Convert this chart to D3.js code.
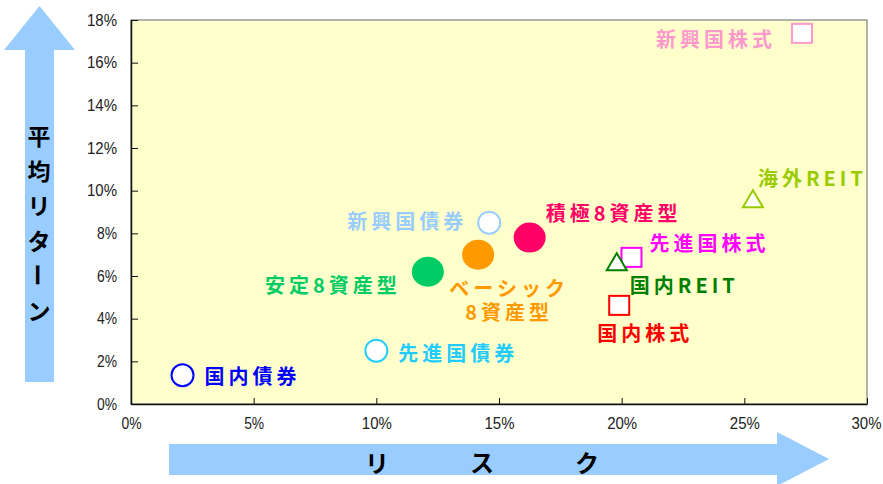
<!DOCTYPE html>
<html>
<head>
<meta charset="utf-8">
<script src="https://cdn.jsdelivr.net/npm/d3@7"></script>
<style>
  body { margin: 0; background: #fff; }
  svg { display: block; }
</style>
</head>
<body>
<svg width="883" height="484"></svg>
<script>
// assets and their risk / average return (%)
const names = ["国内債券", "先進国債券", "新興国債券", "国内株式", "先進国株式", "新興国株式",
  "国内REIT", "海外REIT", "安定8資産型", "ベーシック\n8資産型", "積極8資産型"];
const risk = [2.1, 10.0, 14.6, 19.9, 20.4, 27.35, 19.8, 25.35, 12.1, 14.15, 16.25];
const avgReturn = [1.35, 2.5, 8.5, 4.6, 6.85, 17.35, 6.65, 9.6, 6.2, 7.0, 7.8];

const xTicks = [0, 5, 10, 15, 20, 25, 30];
const yTicks = [0, 2, 4, 6, 8, 10, 12, 14, 16, 18];

// marker style per asset
const style = {
  "国内債券": { color: "#0000ff", shape: "circle" },
  "先進国債券": { color: "#22ccff", shape: "circle" },
  "新興国債券": { color: "#99ccff", shape: "circle" },
  "国内株式": { color: "#ff0000", shape: "square" },
  "先進国株式": { color: "#ff00ff", shape: "square" },
  "新興国株式": { color: "#ff99cc", shape: "square" },
  "国内REIT": { color: "#008000", shape: "triangle" },
  "海外REIT": { color: "#99cc00", shape: "triangle" },
  "安定8資産型": { color: "#00cc66", shape: "dot" },
  "ベーシック\n8資産型": { color: "#ff9900", shape: "dot" },
  "積極8資産型": { color: "#ff0066", shape: "dot" }
};

// label offsets from the marker
const labelPos = {
  "国内債券": { dx: 22, dy: 0, anchor: "start" },
  "先進国債券": { dx: 22, dy: 1, anchor: "start" },
  "新興国債券": { dx: -22, dy: -3, anchor: "end" },
  "国内株式": { dx: -22, dy: 26, anchor: "start" },
  "先進国株式": { dx: 18, dy: -16, anchor: "start" },
  "新興国株式": { dx: -26, dy: 4, anchor: "end" },
  "国内REIT": { dx: 13, dy: 22, anchor: "start" },
  "海外REIT": { dx: 5, dy: -22, anchor: "start" },
  "安定8資産型": { dx: -27, dy: 12, anchor: "end" },
  "ベーシック\n8資産型": { dx: 31, dy: 32, anchor: "middle" },
  "積極8資産型": { dx: 16, dy: -26, anchor: "start" }
};

const svg = d3.select("svg");
const plotL = 131, plotR = 867, plotT = 20, plotB = 404;

const x = d3.scaleLinear().domain([0, 30]).range([plotL, plotR]);
const y = d3.scaleLinear().domain([0, 18]).range([plotB, plotT]);

// arrows behind axis titles
svg.append("polygon")
  .attr("points", "25,382 25,50 4,50 39.5,6 75,50 54,50 54,382")
  .attr("fill", "#99ccff");
svg.append("polygon")
  .attr("points", "169,444 777,444 777,432 829,459 777,486 777,475 169,475")
  .attr("fill", "#99ccff");

// plot area
svg.append("rect")
  .attr("x", plotL).attr("y", plotT)
  .attr("width", plotR - plotL).attr("height", plotB - plotT)
  .attr("fill", "#ffffcc")
  .attr("stroke", "#999").attr("stroke-width", 1.5);

const tickFont = g => {
  g.select(".domain").attr("stroke", "#111").attr("stroke-width", 1.5);
  g.selectAll(".tick line").attr("stroke", "#111");
  g.selectAll(".tick text")
    .attr("fill", "#222")
    .attr("font-family", "Liberation Sans, Arial, sans-serif")
    .attr("font-size", 16)
    .attr("textLength", function () { return this.textContent.length * 10; })
    .attr("lengthAdjust", "spacingAndGlyphs");
};

svg.append("g")
  .attr("transform", `translate(${plotL},0)`)
  .call(d3.axisLeft(y).tickValues(yTicks).tickSize(-7).tickSizeOuter(0).tickPadding(14)
    .tickFormat(d => d + "%"))
  .call(tickFont);

svg.append("g")
  .attr("transform", `translate(0,${plotB})`)
  .call(d3.axisBottom(x).tickValues(xTicks).tickSize(-6).tickSizeOuter(0).tickPadding(19)
    .tickFormat(d => d + "%"))
  .call(tickFont)
  .selectAll(".tick text").attr("dy", "0.35em")
  .filter(d => d === 30).attr("dx", -1);

// axis titles
const yTitle = ["平", "均", "リ", "タ", "ー", "ン"];
svg.append("g").selectAll("text")
  .data(yTitle).enter().append("text")
  .attr("x", 39)
  .attr("y", (d, i) => 135 + i * 35)
  .attr("text-anchor", "middle")
  .attr("dominant-baseline", "central")
  .attr("font-family", "Noto Sans CJK JP")
  .attr("font-weight", "bold")
  .attr("font-size", 23)
  .attr("transform", (d, i) => d === "ー" ? `rotate(90,39,${135 + i * 35})` : null)
  .text(d => d);

const xTitle = ["リ", "ス", "ク"];
svg.append("g").selectAll("text")
  .data(xTitle).enter().append("text")
  .attr("x", (d, i) => 377 + i * 105)
  .attr("y", 461)
  .attr("text-anchor", "middle")
  .attr("dominant-baseline", "central")
  .attr("font-family", "Noto Sans CJK JP")
  .attr("font-weight", "bold")
  .attr("font-size", 24)
  .text(d => d);

// markers
const points = names.map((n, i) => ({ name: n, risk: risk[i], ret: avgReturn[i] }));

const marks = svg.append("g").selectAll("g")
  .data(points).enter().append("g")
  .attr("transform", d => `translate(${x(d.risk)},${y(d.ret)})`);

marks.each(function (d) {
  const s = style[d.name];
  const g = d3.select(this);
  if (s.shape === "circle") {
    g.append("circle").attr("r", 11).attr("fill", "#fff")
      .attr("stroke", s.color).attr("stroke-width", 2);
  } else if (s.shape === "dot") {
    g.append("ellipse").attr("rx", 16).attr("ry", 15).attr("fill", s.color);
  } else if (s.shape === "square") {
    g.append("rect").attr("x", -10).attr("y", -10).attr("width", 20).attr("height", 19)
      .attr("fill", "#fff").attr("stroke", s.color).attr("stroke-width", 2);
  } else {
    g.append("path").attr("d", "M0,-9L10,8L-10,8Z")
      .attr("fill", "#fff").attr("stroke", s.color).attr("stroke-width", 2);
  }
});

// labels
const labels = svg.append("g").selectAll("text")
  .data(points).enter().append("text")
  .attr("x", d => x(d.risk) + labelPos[d.name].dx)
  .attr("y", d => y(d.ret) + labelPos[d.name].dy)
  .attr("text-anchor", d => labelPos[d.name].anchor)
  .attr("dominant-baseline", "central")
  .attr("font-family", "Noto Sans CJK JP")
  .attr("font-weight", "bold")
  .attr("font-size", 20)
  .attr("letter-spacing", 4)
  .attr("fill", d => style[d.name].color);

labels.each(function (d) {
  const lines = d.name.split("\n");
  const t = d3.select(this);
  lines.forEach((line, i) => {
    t.append("tspan")
      .attr("x", x(d.risk) + labelPos[d.name].dx)
      .attr("dy", i === 0 ? 0 : 24)
      .text(line);
  });
});
</script>
</body>
</html>
